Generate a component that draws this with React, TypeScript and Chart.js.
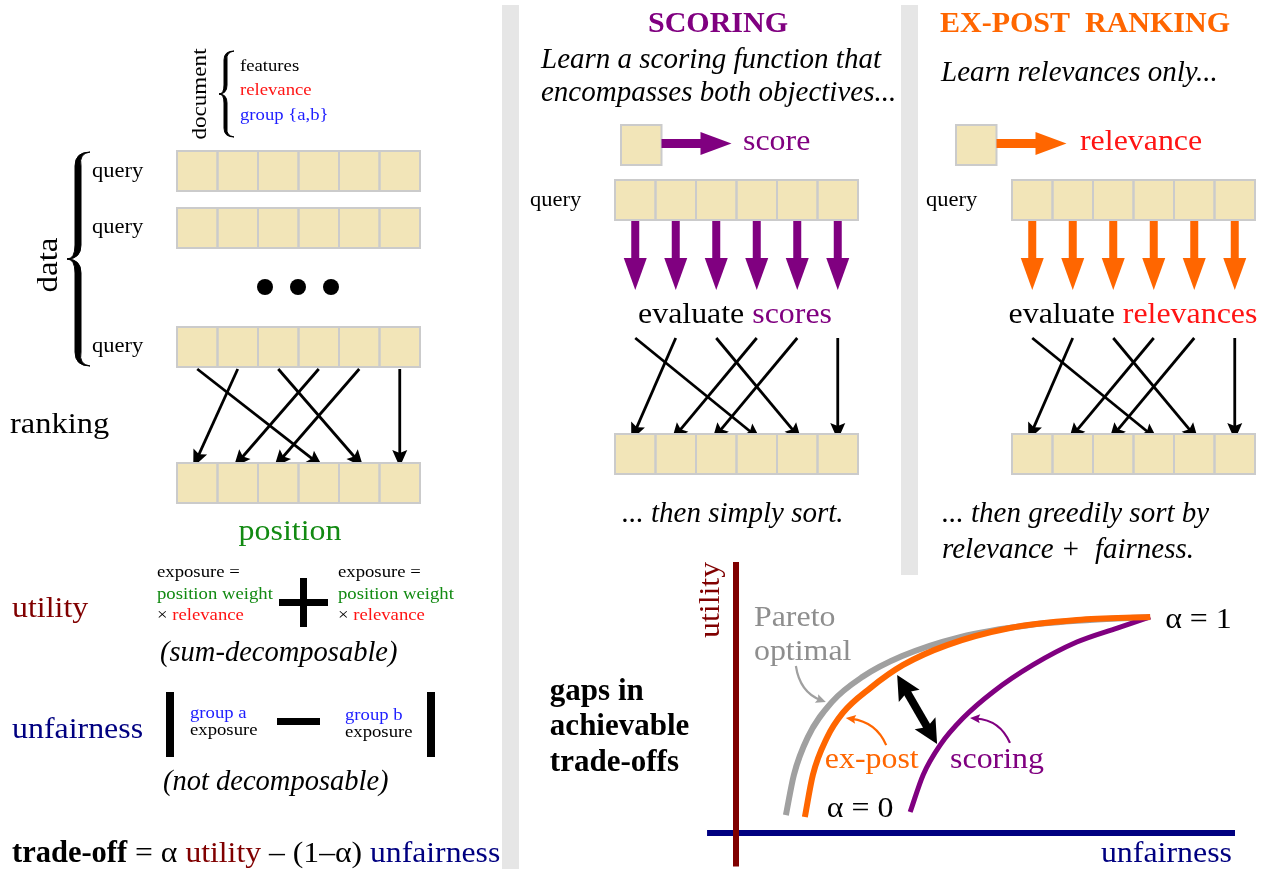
import React, { useEffect, useRef } from "react";
import { Chart, registerables } from "chart.js";

Chart.register(...registerables);

// ---------------- content / data ----------------
const DOC_LABEL = "document";
const DOC_FIELDS = ["features", "relevance", "group {a,b}"];
const DATA_LABEL = "data";
const QUERY_LABEL = "query";
const DOCS_PER_QUERY = 6;
const ELLIPSIS_DOTS = [0, 1, 2];
const RANK_TARGET = [3, 0, 4, 1, 2, 5]; // document i of the query -> ranked position
const RANKING_LABEL = "ranking";
const POSITION_LABEL = "position";
const UTILITY_TERM = ["exposure =", "position weight", "relevance"];
const UNFAIR_GROUPS = ["group a", "group b"];
const DECOMP_NOTES = ["(sum-decomposable)", "(not decomposable)"];
const PANEL_TITLES = ["SCORING", "EX-POST  RANKING"];
const PANEL_INTROS = [
  ["Learn a scoring function that", "encompasses both objectives..."],
  ["Learn relevances only..."],
];
const PANEL_OUTPUTS = ["score", "relevance"];
const PANEL_EVALS = ["scores", "relevances"];
const PANEL_SORTS = [["... then simply sort."], ["... then greedily sort by", "relevance +  fairness."]];
const GAP_LABEL_LINES = ["gaps in", "achievable", "trade-offs"];
const PARETO_LABEL_LINES = ["Pareto", "optimal"];
const ALPHA_LABELS = ["α = 0", "α = 1"];

// trade-off curves: unfairness (x) vs utility (y), normalised units
const PARETO_UNFAIRNESS = [0.1, 0.116, 0.144, 0.192, 0.253, 0.333, 0.449, 0.589, 0.709, 0.83];
const PARETO_UTILITY = [0.083, 0.269, 0.444, 0.606, 0.722, 0.819, 0.907, 0.963, 0.986, 1.0];
const EXPOST_UNFAIRNESS = [0.138, 0.154, 0.182, 0.214, 0.269, 0.335, 0.423, 0.549, 0.683, 0.83];
const EXPOST_UTILITY = [0.074, 0.269, 0.44, 0.556, 0.671, 0.778, 0.87, 0.949, 0.986, 1.0];
const SCORING_UNFAIRNESS = [0.349, 0.375, 0.409, 0.455, 0.515, 0.595, 0.683, 0.764, 0.83];
const SCORING_UTILITY = [0.097, 0.269, 0.407, 0.532, 0.653, 0.778, 0.884, 0.949, 1.0];

// ---------------- styles ----------------
const FONT = '"Liberation Serif", "Times New Roman", serif';
const ROMAN_SX = 1.1;
const C = {
  black: "#000000",
  red: "#ff1414",
  blue: "#1e1eff",
  green: "#128a12",
  darkRed: "#800000",
  navy: "#000080",
  purple: "#800080",
  orange: "#ff6600",
  gray: "#a0a0a0",
  grayText: "#8e8e8e",
  cell: "#f2e5b8",
  cellEdge: "#cbcbcb",
  separator: "#e6e6e6",
};

// layout (page pixel space of the diagram chart)
const CW = 40.5;
const CH = 40;
const L = {
  separators: [
    { x: 502, w: 17, top: 5, bottom: 869 },
    { x: 901, w: 17, top: 5, bottom: 575 },
  ],
  left: {
    rowX: 177,
    rowTops: [151, 208, 327],
    queryX: 92,
    queryBase: [177, 233, 352],
    rankedTop: 463,
    arrowFrom: 369,
    arrowTo: 467,
    dotsX: 265,
    dotsDX: 33,
    dotsY: 287,
  },
  panels: [
    { color: C.purple, outColor: C.purple, titleCX: 718, introX: 541, introBase: [68, 101], sqX: 621, outX: 743, queryX: 530, rowX: 615, evalCX: 735, sortX: 622, sortBase: [522] },
    { color: C.orange, outColor: C.red, titleCX: 1085, introX: 941, introBase: [81], sqX: 956, outX: 1080, queryX: 926, rowX: 1012, evalCX: 1133, sortX: 942, sortBase: [522, 558] },
  ],
};

type Seg = { t: string; size: number; color: string; style?: string };

const segFont = (s: Seg) => `${s.style ? s.style + " " : ""}${s.size}px ${FONT}`;
const segSX = (s: Seg) => (s.style ? 1.0 : ROMAN_SX);

function drawText(ctx: CanvasRenderingContext2D, segs: Seg[], x: number, y: number, align = "left", rot = 0) {
  ctx.save();
  ctx.textBaseline = "alphabetic";
  ctx.textAlign = "left";
  const widths = segs.map((s) => {
    ctx.font = segFont(s);
    return ctx.measureText(s.t).width * segSX(s);
  });
  const total = widths.reduce((a, b) => a + b, 0);
  let cur = align === "center" ? -total / 2 : align === "right" ? -total : 0;
  ctx.translate(x, y);
  if (rot) ctx.rotate(rot);
  segs.forEach((s, i) => {
    ctx.save();
    ctx.font = segFont(s);
    ctx.fillStyle = s.color;
    ctx.translate(cur, 0);
    ctx.scale(segSX(s), 1);
    ctx.fillText(s.t, 0, 0);
    ctx.restore();
    cur += widths[i];
  });
  ctx.restore();
}

function arrowHead(ctx: CanvasRenderingContext2D, tx: number, ty: number, ux: number, uy: number, len: number, half: number, color: string) {
  const bx = tx - ux * len;
  const by = ty - uy * len;
  ctx.fillStyle = color;
  ctx.beginPath();
  ctx.moveTo(tx, ty);
  ctx.lineTo(bx - uy * half, by + ux * half);
  ctx.lineTo(bx + ux * len * 0.18, by + uy * len * 0.18);
  ctx.lineTo(bx + uy * half, by - ux * half);
  ctx.closePath();
  ctx.fill();
}

function arrow(ctx: CanvasRenderingContext2D, x1: number, y1: number, x2: number, y2: number, color: string, lw: number, len: number, half: number, notch = true) {
  const dx = x2 - x1;
  const dy = y2 - y1;
  const d = Math.hypot(dx, dy);
  const ux = dx / d;
  const uy = dy / d;
  ctx.save();
  ctx.strokeStyle = color;
  ctx.lineWidth = lw;
  ctx.lineCap = "butt";
  ctx.beginPath();
  ctx.moveTo(x1, y1);
  ctx.lineTo(x2 - ux * len * 0.7, y2 - uy * len * 0.7);
  ctx.stroke();
  if (notch) {
    arrowHead(ctx, x2, y2, ux, uy, len, half, color);
  } else {
    const bx = x2 - ux * len;
    const by = y2 - uy * len;
    ctx.fillStyle = color;
    ctx.beginPath();
    ctx.moveTo(x2, y2);
    ctx.lineTo(bx - uy * half, by + ux * half);
    ctx.lineTo(bx + uy * half, by - ux * half);
    ctx.closePath();
    ctx.fill();
  }
  ctx.restore();
}

// calligraphic left-pointing curly brace (thick arms, thin ends and tip)
function brace(ctx: CanvasRenderingContext2D, xEnd: number, xSpine: number, xTip: number, yTop: number, yMid: number, yBot: number, r: number, w: number) {
  ctx.save();
  ctx.fillStyle = C.black;
  ctx.strokeStyle = C.black;
  ctx.lineWidth = 1;
  ctx.lineJoin = "round";
  [
    [yTop, 1],
    [yBot, -1],
  ].forEach(([yEnd, s]) => {
    ctx.beginPath();
    ctx.moveTo(xEnd, yEnd);
    ctx.quadraticCurveTo(xSpine, yEnd, xSpine, yEnd + s * r);
    ctx.lineTo(xSpine, yMid - s * r);
    ctx.quadraticCurveTo(xSpine, yMid, xTip, yMid);
    ctx.quadraticCurveTo(xSpine + w, yMid, xSpine + w, yMid - s * r);
    ctx.lineTo(xSpine + w, yEnd + s * r);
    ctx.quadraticCurveTo(xSpine + w * 0.6, yEnd + s * 1.5, xEnd, yEnd);
    ctx.closePath();
    ctx.fill();
    ctx.stroke();
  });
  ctx.restore();
}

const diagramPlugin = {
  id: "diagram",
  beforeDatasetsDraw(chart: any) {
    const ctx: CanvasRenderingContext2D = chart.ctx;
    const X = (v: number) => chart.scales.x.getPixelForValue(v);
    const Y = (v: number) => chart.scales.y.getPixelForValue(v);
    const rect = (x: number, y: number, w: number, h: number, color: string) => {
      ctx.fillStyle = color;
      ctx.fillRect(X(x), Y(y), X(x + w) - X(x), Y(y + h) - Y(y));
    };
    const cellRow = (x0: number, top: number, n: number) => {
      for (let i = 0; i < n; i++) rect(x0 + i * CW, top, CW, CH, C.cell);
      ctx.save();
      ctx.strokeStyle = C.cellEdge;
      ctx.lineWidth = 2;
      for (let i = 0; i < n; i++) {
        const a = X(x0 + i * CW);
        const b = X(x0 + (i + 1) * CW);
        ctx.strokeRect(a, Y(top), b - a, Y(top + CH) - Y(top));
      }
      ctx.restore();
    };
    const rankingArrows = (x0: number, yFrom: number, yTo: number) => {
      RANK_TARGET.forEach((tgt, i) => {
        const sx = x0 + CW * (i + 0.5);
        const tx = x0 + CW * (tgt + 0.5) + Math.sign(tgt - i) * 4;
        arrow(ctx, X(sx), Y(yFrom), X(tx), Y(yTo), C.black, 2.8, 17, 7.5);
      });
    };

    ctx.save();
    ctx.fillStyle = "#ffffff";
    ctx.fillRect(0, 0, chart.width, chart.height);
    ctx.restore();

    // separators
    L.separators.forEach((s) => rect(s.x, s.top, s.w, s.bottom - s.top, C.separator));

    // ---- left panel ----
    drawText(ctx, [{ t: DOC_LABEL, size: 21, color: C.black }], X(206), Y(94), "center", -Math.PI / 2);
    brace(ctx, X(234), X(224), X(219), Y(51), Y(94), Y(137), 9, 3);
    const fieldColors = [C.black, C.red, C.blue];
    const fieldBase = [71, 95, 120];
    DOC_FIELDS.forEach((f, i) => drawText(ctx, [{ t: f, size: 17, color: fieldColors[i] }], X(240), Y(fieldBase[i])));

    brace(ctx, X(90), X(75), X(67), Y(152), Y(259), Y(366), 14, 6);
    drawText(ctx, [{ t: DATA_LABEL, size: 30, color: C.black }], X(57), Y(265), "center", -Math.PI / 2);

    L.left.rowTops.forEach((top, i) => {
      cellRow(L.left.rowX, top, DOCS_PER_QUERY);
      drawText(ctx, [{ t: QUERY_LABEL, size: 20.5, color: C.black }], X(L.left.queryX), Y(L.left.queryBase[i]));
    });

    drawText(ctx, [{ t: RANKING_LABEL, size: 29.5, color: C.black }], X(10), Y(433));
    rankingArrows(L.left.rowX, L.left.arrowFrom, L.left.arrowTo);
    cellRow(L.left.rowX, L.left.rankedTop, DOCS_PER_QUERY);
    drawText(ctx, [{ t: POSITION_LABEL, size: 29, color: C.green }], X(290), Y(540), "center");

    // utility
    drawText(ctx, [{ t: "utility", size: 29, color: C.darkRed }], X(12), Y(617));
    [157, 338].forEach((x) => {
      drawText(ctx, [{ t: UTILITY_TERM[0], size: 17, color: C.black }], X(x), Y(577));
      drawText(ctx, [{ t: UTILITY_TERM[1], size: 17, color: C.green }], X(x), Y(599));
      drawText(ctx, [{ t: "× ", size: 17, color: C.black }, { t: UTILITY_TERM[2], size: 17, color: C.red }], X(x), Y(620));
    });
    rect(279, 599, 49, 7, C.black);
    rect(300, 578, 7, 49, C.black);
    drawText(ctx, [{ t: DECOMP_NOTES[0], size: 28.5, color: C.black, style: "italic" }], X(160), Y(661));

    // unfairness
    drawText(ctx, [{ t: "unfairness", size: 29, color: C.navy }], X(12), Y(738));
    rect(166, 692, 8, 65, C.black);
    rect(427, 692, 8, 65, C.black);
    drawText(ctx, [{ t: UNFAIR_GROUPS[0], size: 17, color: C.blue }], X(190), Y(718));
    drawText(ctx, [{ t: "exposure", size: 17, color: C.black }], X(190), Y(735));
    rect(277, 718, 43, 7, C.black);
    drawText(ctx, [{ t: UNFAIR_GROUPS[1], size: 17, color: C.blue }], X(345), Y(720));
    drawText(ctx, [{ t: "exposure", size: 17, color: C.black }], X(345), Y(737));
    drawText(ctx, [{ t: DECOMP_NOTES[1], size: 28.5, color: C.black, style: "italic" }], X(163), Y(790));

    // trade-off formula
    drawText(
      ctx,
      [
        { t: "trade-off", size: 30.5, color: C.black, style: "bold" },
        { t: " = α ", size: 28.8, color: C.black },
        { t: "utility", size: 28.8, color: C.darkRed },
        { t: " – (1–α) ", size: 28.8, color: C.black },
        { t: "unfairness", size: 28.8, color: C.navy },
      ],
      X(12),
      Y(862)
    );

    // ---- scoring / ex-post panels ----
    PANEL_TITLES.forEach((title, p) => {
      const P = L.panels[p];
      drawText(ctx, [{ t: title, size: 30, color: P.color, style: "bold" }], X(P.titleCX), Y(32), "center");
      PANEL_INTROS[p].forEach((line, k) =>
        drawText(ctx, [{ t: line, size: 29, color: C.black, style: "italic" }], X(P.introX), Y(P.introBase[k]))
      );
      cellRow(P.sqX, 125, 1);
      arrow(ctx, X(P.sqX + CW), Y(143.5), X(P.sqX + CW + 70), Y(143.5), P.color, 9, 31, 11.5, false);
      drawText(ctx, [{ t: PANEL_OUTPUTS[p], size: 29, color: P.outColor }], X(P.outX), Y(150));
      drawText(ctx, [{ t: QUERY_LABEL, size: 20.5, color: C.black }], X(P.queryX), Y(206));
      cellRow(P.rowX, 180, DOCS_PER_QUERY);
      for (let i = 0; i < DOCS_PER_QUERY; i++) {
        const cx = P.rowX + CW * (i + 0.5);
        arrow(ctx, X(cx), Y(221), X(cx), Y(290), P.color, 8, 32, 11.5, false);
      }
      drawText(
        ctx,
        [
          { t: "evaluate ", size: 29, color: C.black },
          { t: PANEL_EVALS[p], size: 29, color: P.outColor },
        ],
        X(P.evalCX),
        Y(323),
        "center"
      );
      rankingArrows(P.rowX, 338, 440);
      cellRow(P.rowX, 434, DOCS_PER_QUERY);
      PANEL_SORTS[p].forEach((line, k) =>
        drawText(ctx, [{ t: line, size: 29, color: C.black, style: "italic" }], X(P.sortX), Y(P.sortBase[k]))
      );
    });
  },
};

const tradeoffPlugin = {
  id: "tradeoff",
  beforeDatasetsDraw(chart: any) {
    const ctx: CanvasRenderingContext2D = chart.ctx;
    const X = (u: number) => chart.scales.x.getPixelForValue(u);
    const Y = (v: number) => chart.scales.y.getPixelForValue(v);
    ctx.save();
    ctx.lineWidth = 6;
    ctx.lineCap = "butt";
    ctx.strokeStyle = C.navy;
    ctx.beginPath();
    ctx.moveTo(X(-0.058), Y(0));
    ctx.lineTo(X(1), Y(0));
    ctx.stroke();
    ctx.strokeStyle = C.darkRed;
    ctx.beginPath();
    ctx.moveTo(X(0), Y(1.255));
    ctx.lineTo(X(0), Y(-0.155));
    ctx.stroke();
    ctx.restore();
  },
  afterDatasetsDraw(chart: any) {
    const ctx: CanvasRenderingContext2D = chart.ctx;
    const X = (u: number) => chart.scales.x.getPixelForValue(u);
    const Y = (v: number) => chart.scales.y.getPixelForValue(v);

    drawText(ctx, [{ t: "utility", size: 29, color: C.darkRed }], X(-0.034), Y(1.079), "center", -Math.PI / 2);
    drawText(ctx, [{ t: "unfairness", size: 29, color: C.navy }], X(0.994), Y(-0.134), "right");

    const gapBase = [0.616, 0.454, 0.287];
    GAP_LABEL_LINES.forEach((line, i) =>
      drawText(ctx, [{ t: line, size: 31, color: C.black, style: "bold" }], X(-0.373), Y(gapBase[i]))
    );
    const paretoBase = [0.958, 0.801];
    PARETO_LABEL_LINES.forEach((line, i) =>
      drawText(ctx, [{ t: line, size: 29, color: C.grayText }], X(0.036), Y(paretoBase[i]))
    );
    drawText(ctx, [{ t: "ex-post", size: 29, color: C.orange }], X(0.178), Y(0.301));
    drawText(ctx, [{ t: "scoring", size: 29, color: C.purple }], X(0.429), Y(0.301));
    drawText(ctx, [{ t: ALPHA_LABELS[0], size: 29, color: C.black }], X(0.182), Y(0.074));
    drawText(ctx, [{ t: ALPHA_LABELS[1], size: 29, color: C.black }], X(0.86), Y(0.949));

    const pointer = (s: number[], c: number[], e: number[], color: string) => {
      const sx = X(s[0]), sy = Y(s[1]), cx = X(c[0]), cy = Y(c[1]), ex = X(e[0]), ey = Y(e[1]);
      const dx = ex - cx, dy = ey - cy, d = Math.hypot(dx, dy);
      const ux = dx / d, uy = dy / d;
      ctx.save();
      ctx.strokeStyle = color;
      ctx.lineWidth = 2.2;
      ctx.beginPath();
      ctx.moveTo(sx, sy);
      ctx.quadraticCurveTo(cx, cy, ex - ux * 6, ey - uy * 6);
      ctx.stroke();
      arrowHead(ctx, ex, ey, ux, uy, 10, 4.5, color);
      ctx.restore();
    };
    pointer([0.12, 0.773], [0.128, 0.653], [0.18, 0.606], C.gray);
    pointer([0.301, 0.407], [0.281, 0.514], [0.22, 0.532], C.orange);
    pointer([0.549, 0.417], [0.529, 0.523], [0.469, 0.532], C.purple);

    // gap double arrow
    const ax = X(0.323), ay = Y(0.731), bx = X(0.403), by = Y(0.412);
    const dx = bx - ax, dy = by - ay, d = Math.hypot(dx, dy);
    const ux = dx / d, uy = dy / d;
    ctx.save();
    ctx.strokeStyle = C.black;
    ctx.lineWidth = 8;
    ctx.beginPath();
    ctx.moveTo(ax + ux * 18, ay + uy * 18);
    ctx.lineTo(bx - ux * 18, by - uy * 18);
    ctx.stroke();
    arrowHead(ctx, ax, ay, -ux, -uy, 24, 12, C.black);
    arrowHead(ctx, bx, by, ux, uy, 24, 12, C.black);
    ctx.restore();
  },
};

const toPoints = (xs: number[], ys: number[]) => xs.map((x, i) => ({ x, y: ys[i] }));

export default function App() {
  const aRef = useRef<HTMLCanvasElement>(null);
  const bRef = useRef<HTMLCanvasElement>(null);

  useEffect(() => {
    document.body.style.margin = "0";
    const diagram = new Chart(aRef.current as HTMLCanvasElement, {
      type: "scatter",
      data: {
        datasets: [
          {
            label: "more queries",
            data: ELLIPSIS_DOTS.map((k) => ({ x: L.left.dotsX + k * L.left.dotsDX, y: L.left.dotsY })),
            pointRadius: 8,
            pointBackgroundColor: C.black,
            pointBorderWidth: 0,
            showLine: false,
          },
        ],
      },
      options: {
        responsive: false,
        animation: false,
        devicePixelRatio: 1,
        events: [],
        layout: { padding: 0, autoPadding: false },
        scales: {
          x: { type: "linear", min: 0, max: 1270, display: false },
          y: { type: "linear", min: 0, max: 869, reverse: true, display: false },
        },
        plugins: { legend: { display: false }, tooltip: { enabled: false } },
      },
      plugins: [diagramPlugin],
    } as any);

    const common = {
      showLine: true,
      pointRadius: 0,
      fill: false,
      cubicInterpolationMode: "monotone",
      clip: false,
      borderCapStyle: "butt",
      backgroundColor: "transparent",
    };
    const tradeoff = new Chart(bRef.current as HTMLCanvasElement, {
      type: "scatter",
      data: {
        datasets: [
          { ...common, label: "ex-post", data: toPoints(EXPOST_UNFAIRNESS, EXPOST_UTILITY), borderColor: C.orange, borderWidth: 6, order: 0 },
          { ...common, label: "scoring", data: toPoints(SCORING_UNFAIRNESS, SCORING_UTILITY), borderColor: C.purple, borderWidth: 5, order: 1 },
          { ...common, label: "Pareto optimal", data: toPoints(PARETO_UNFAIRNESS, PARETO_UTILITY), borderColor: C.gray, borderWidth: 6, order: 2 },
        ],
      },
      options: {
        responsive: false,
        animation: false,
        devicePixelRatio: 1,
        events: [],
        layout: { padding: { left: 216, right: 35, top: 62, bottom: 36 }, autoPadding: false },
        scales: {
          x: { type: "linear", min: 0, max: 1, display: false },
          y: { type: "linear", min: 0, max: 1, display: false },
        },
        plugins: { legend: { display: false }, tooltip: { enabled: false } },
      },
      plugins: [tradeoffPlugin],
    } as any);

    return () => {
      diagram.destroy();
      tradeoff.destroy();
    };
  }, []);

  return (
    <div style={{ position: "fixed", left: 0, top: 0, width: 1270, height: 869, background: "#ffffff", overflow: "hidden" }}>
      <canvas ref={aRef} width={1270} height={869} style={{ position: "absolute", left: 0, top: 0 }} />
      <canvas ref={bRef} width={750} height={314} style={{ position: "absolute", left: 520, top: 555 }} />
    </div>
  );
}
